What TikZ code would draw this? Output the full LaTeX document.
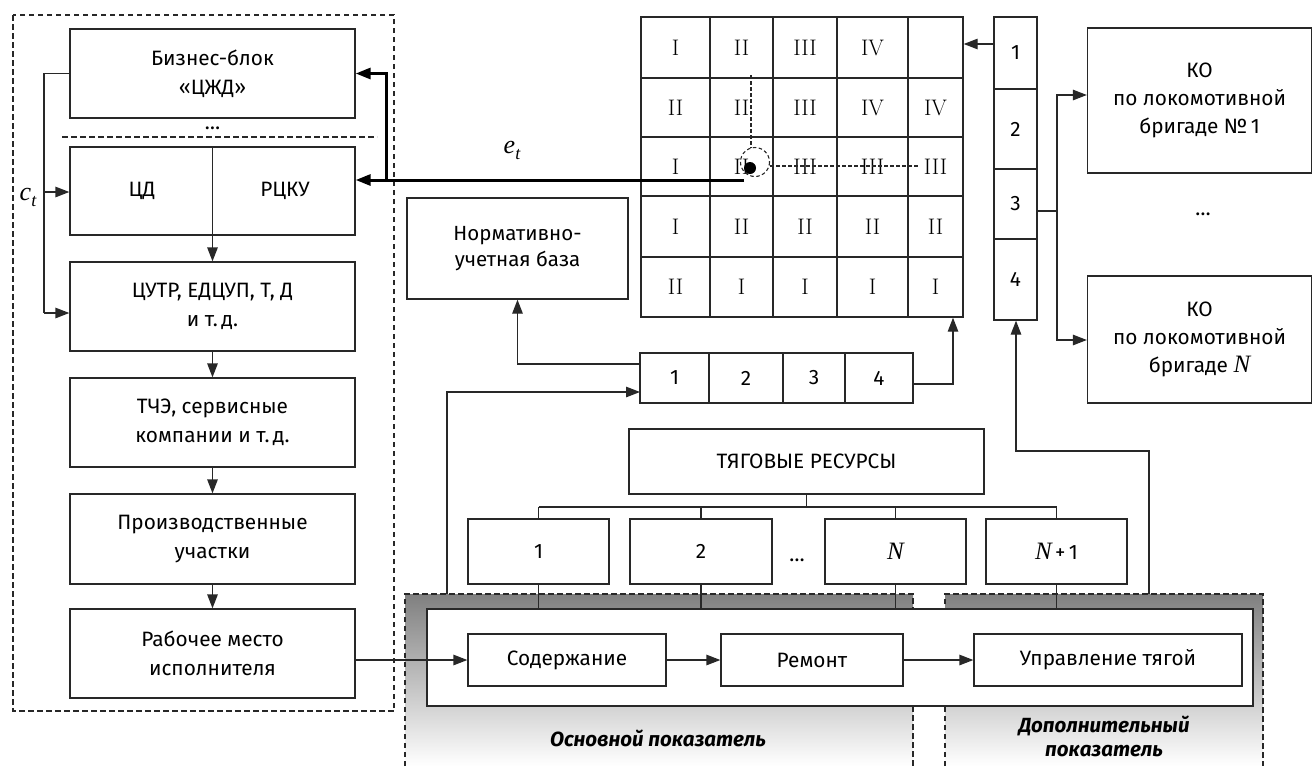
\documentclass[tikz,border=0pt]{standalone}
\usepackage{fontspec}
\newfontfamily\fira{Fira Sans}
\newfontfamily\tms{Liberation Serif}
\usetikzlibrary{arrows.meta}
\definecolor{lc}{RGB}{40,40,40}
\definecolor{shade}{RGB}{194,194,194}
\newcommand\bfnt{\fira\fontsize{20.8}{29}\selectfont}
\newcommand\numfnt{\rmfamily\fontsize{22.5}{26}\selectfont}
% italic letters
\newcommand\vari[1]{{\tms\itshape\fontsize{25}{28}\selectfont #1}}
\newcommand\varsub[2]{{\tms\itshape\fontsize{26}{28}\selectfont #1\raisebox{-6pt}{\fontsize{18}{18}\selectfont #2}}}

\begin{document}
\begin{tikzpicture}[x=1pt,y=-1pt,
  box/.style={draw=lc, line width=1.3pt, fill=white, inner sep=0pt, align=center, font=\bfnt},
  arr/.style={draw=lc, line width=1.3pt, -{Triangle[length=14pt,width=10.5pt]}},
  ln/.style={draw=lc, line width=1.3pt},
  thk/.style={draw=black, line width=3pt, -{Triangle[length=15pt,width=11pt]}},
  lbl/.style={inner sep=0pt, font=\bfnt, align=center},
  num/.style={inner sep=0pt, font=\numfnt},
  dsh/.style={draw=lc, line width=1.2pt, dash pattern=on 5.5pt off 3.5pt},
  fdsh/.style={draw=lc, line width=1.1pt, dash pattern=on 3.5pt off 2.5pt},
]
\useasboundingbox (0,0) rectangle (1313,766);

% shaded indicator areas
\fill[shade] (405,594) rectangle (913,766);
\draw[dsh] (405,766) -- (405,594) -- (913,594) -- (913,766);
\fill[shade] (945,594) rectangle (1263,766);
\draw[dsh] (945,766) -- (945,594) -- (1263,594) -- (1263,766);

% management hierarchy
\draw[dsh] (13,15) rectangle (394,711);
\node[box, minimum width=285, minimum height=89] (biz) at (212.5,73.5) {Бизнес-блок\\«ЦЖД»};
\node[lbl] (bdots) at (212.5,128) {\dots};
\draw[dsh] (62,137) -- (377,137);
\node[box, minimum width=285, minimum height=88] (cd) at (212.5,191) {};
\node[lbl] (cdl) at (142,191) {ЦД};
\node[lbl] (cdr) at (285,191) {РЦКУ};
\node[box, minimum width=285, minimum height=89] (cutr) at (212.5,306.5) {ЦУТР, ЕДЦУП, Т, Д\\и т.\,д.};
\node[box, minimum width=285, minimum height=89] (tche) at (212.5,422.5) {ТЧЭ, сервисные\\компании и т.\,д.};
\node[box, minimum width=285, minimum height=90] (prod) at (212.5,539) {Производственные\\участки};
\node[box, minimum width=285, minimum height=89] (rab) at (212.5,653.5) {Рабочее место\\исполнителя};

\draw[arr] (cd.north) -- (cutr.north);
\draw[arr] (cutr.south) -- (tche.north);
\draw[arr] (tche.south) -- (prod.north);
\draw[arr] (prod.south) -- (rab.north);

% feedback c_t
\coordinate (ca) at (44,73.5);
\coordinate (cb) at (44,313);
\coordinate (cc) at (44,192);
\draw[ln] (biz.west) -- (ca) -- (cb);
\draw[arr] (cb) -- (cb -| cutr.west);
\draw[arr] (cc) -- (cc -| cd.west);
\node[inner sep=0pt] (ct) at (28,197) {\varsub{c}{t}};

% matrix of states
\node[draw=lc, line width=1.4pt, minimum width=322, minimum height=300, inner sep=0pt] (mat) at (802,167) {};
\foreach \gx in {710,773,837,908} \draw[lc, line width=1.4pt] (\gx,17) -- (\gx,317);
\foreach \gy in {78,137,196,257} \draw[lc, line width=1.4pt] (641,\gy) -- (963,\gy);
\foreach \cx/\cy/\t [count=\k] in {
  675.5/47.5/I, 741.5/47.5/II, 805/47.5/III, 872.5/47.5/IV,
  675.5/107.5/II, 741.5/107.5/II, 805/107.5/III, 872.5/107.5/IV, 935.5/107.5/IV,
  675.5/166.5/I, 741.5/166.5/II, 805/166.5/III, 872.5/166.5/III, 935.5/166.5/III,
  675.5/226.5/I, 741.5/226.5/II, 805/226.5/II, 872.5/226.5/II, 935.5/226.5/II,
  675.5/287/II, 741.5/287/I, 805/287/I, 872.5/287/I, 935.5/287/I}
  \node[num] (m\k) at (\cx,\cy) {\t};

% current state marker
\draw[fdsh] (751,75) -- (751,147.5);
\draw[fdsh] (755,162) circle (14.5);
\draw[fdsh] (770,166) -- (918,166);
\fill[black] (750,168) circle (6);

% deviation signal e_t
\coordinate (et0) at (744,180);
\coordinate (eb) at (386,180);
\draw[thk] (et0) -- (et0 -| cd.east);
\draw[thk, line join=miter] (eb) |- (biz.east);
\node[inner sep=0pt] (et) at (512,150) {\varsub{e}{t}};

% normative base
\node[box, minimum width=221, minimum height=101, font=\fira\fontsize{20.5}{26}\selectfont] (norm) at (517.5,248.5) {Нормативно-\\учетная база};

% vertical column 1..4
\node[box, minimum width=43, minimum height=72] (c1) at (1015.5,53) {1};
\node[box, minimum width=43, minimum height=80] (c2) at (1015.5,129) {2};
\node[box, minimum width=43, minimum height=70] (c3) at (1015.5,204) {3};
\node[box, minimum width=43, minimum height=81] (c4) at (1015.5,279.5) {4};
\coordinate (k1) at (994,44);
\draw[arr] (k1) -- (k1 -| mat.east);

% control objects
\node[box, minimum width=224, minimum height=145, font=\fira\fontsize{20.8}{28}\selectfont] (ko1) at (1199.5,100.5) {КО\\по локомотивной\\бригаде №\,1};
\node[box, minimum width=224, minimum height=127, font=\fira\fontsize{20.8}{28}\selectfont] (kon) at (1199.5,339.5) {КО\\по локомотивной\\бригаде \vari{N}};
\node[lbl] (kdots) at (1203,214) {\dots};
\coordinate (k3) at (1037,211);
\coordinate (kj) at (1057,211);
\coordinate (kt) at (1057,95);
\coordinate (kb) at (1057,340);
\draw[ln] (k3) -- (kj);
\draw[arr] (kj) -- (kt) -- (kt -| ko1.west);
\draw[arr] (kj) -- (kb) -- (kb -| kon.west);

% horizontal row 1..4
\node[box, minimum width=69, minimum height=50] (r1) at (674.5,378) {1};
\node[box, minimum width=74, minimum height=50] (r2) at (746,378) {2};
\node[box, minimum width=62, minimum height=50] (r3) at (814,378) {3};
\node[box, minimum width=68, minimum height=50] (r4) at (879,378) {4};
\coordinate (q1) at (640,364);
\draw[arr] (q1) -| (norm.south);
\coordinate (q2) at (640,392);
\coordinate (q3) at (447,594);
\coordinate (q4) at (447,392);
\draw[arr] (q3) -- (q4) -- (q2);
\coordinate (q5) at (913,384);
\coordinate (q6) at (953,384);
\draw[arr] (q5) -- (q6) -- (q6 |- mat.south);

% traction resources
\node[box, minimum width=355, minimum height=65] (tr) at (806.5,461.5) {ТЯГОВЫЕ РЕСУРСЫ};
\node[box, minimum width=141, minimum height=65] (b1) at (538.5,551.5) {1};
\node[box, minimum width=142, minimum height=65] (b2) at (701,551.5) {2};
\node[box, minimum width=141, minimum height=65] (bn) at (895.5,551.5) {\vari{N}};
\node[box, minimum width=141, minimum height=65] (bn1) at (1056.5,551.5) {\vari{N}\,+\,1};
\node[lbl] (rdots) at (797,560) {\dots};
\coordinate (t0) at (806.5,507);
\draw[ln] (tr.south) -- (t0);
\draw[ln] (b1.north |- t0) -- (bn1.north |- t0);
\foreach \b in {b1,b2,bn,bn1} \draw[ln] (\b.north |- t0) -- (\b.north);

% activities
\node[box, minimum width=826, minimum height=97] (wb) at (840,657.5) {};
\foreach \b in {b1,b2,bn,bn1} \draw[ln] (\b.south) -- (\b.south |- wb.north);
\node[box, minimum width=198, minimum height=52] (sod) at (567,660) {Содержание};
\node[box, minimum width=182, minimum height=52] (rem) at (812,660) {Ремонт};
\node[box, minimum width=268, minimum height=52] (upr) at (1108,660) {Управление тягой};
\draw[arr] (rab.east |- sod.west) -- (sod.west);
\draw[arr] (sod) -- (rem);
\draw[arr] (rem) -- (upr);

% links from indicators to the rows
\coordinate (p1) at (1149,594);
\coordinate (p2) at (1149,451);
\coordinate (p3) at (1016,451);
\draw[arr] (p1) -- (p2) -- (p3) -- (p3 |- c4.south);

\node[lbl, font=\fira\fontsize{20.5}{23.5}\selectfont\bfseries\itshape] (osn) at (658,738) {Основной показатель};
\node[lbl, font=\fira\fontsize{20.5}{23.5}\selectfont\bfseries\itshape] (dop) at (1104,736.5) {Дополнительный\\показатель};
\end{tikzpicture}
\end{document}
